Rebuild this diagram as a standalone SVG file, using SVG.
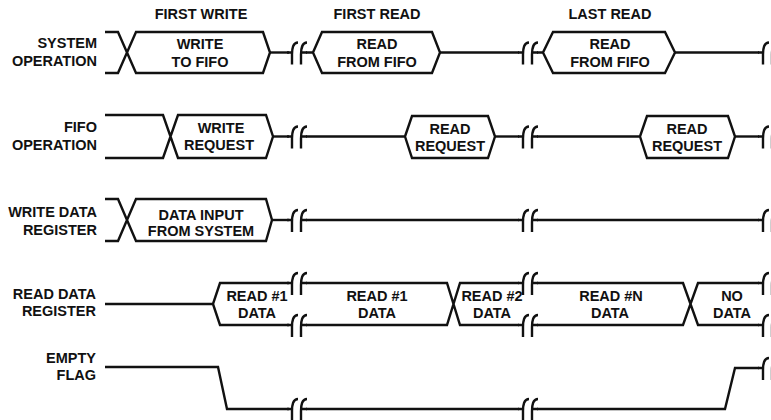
<svg xmlns="http://www.w3.org/2000/svg" xmlns:xlink="http://www.w3.org/1999/xlink" width="771" height="420" viewBox="0 0 771 420">
<style>
  .w { fill: none; stroke: #111; stroke-width: 2.4; stroke-linejoin: miter; }
  text { font-family: "Liberation Sans", Arial, sans-serif; font-weight: bold; font-size: 14.5px; fill: #111; }
  .lbl { text-anchor: end; }
  .c { text-anchor: middle; }
</style>
<defs>
  <path id="brk" class="w" d="M-5,0 L0,0 M6,-10 C1,-10 0,-4 0,2 L0,12 M15,-10 C10,-10 9,-4 9,2 L9,12 M9,0 L15,0"/>
</defs>
<rect width="771" height="420" fill="#fff"/>

<g id="headings">
  <text class="c" x="201" y="19">FIRST WRITE</text>
  <text class="c" x="377" y="19">FIRST READ</text>
  <text class="c" x="610" y="19">LAST READ</text>
</g>

<g id="system-operation">
  <text class="lbl" x="97" y="48">SYSTEM</text>
  <text class="lbl" x="97" y="66">OPERATION</text>
  <path class="w" d="M105,32 L118,32 L136,73 L263,73 L270,52.5 L263,32 L136,32 L118,73 L105,73"/>
  <path class="w" d="M270,52.5 L289,52.5"/>
  <use xlink:href="#brk" x="292" y="52.5"/>
  <path class="w" d="M306,52.5 L313,52.5 L322,32 L432,32 L440,52.5 L432,73 L322,73 L313,52.5"/>
  <path class="w" d="M440,52.5 L519,52.5"/>
  <use xlink:href="#brk" x="523" y="52.5"/>
  <path class="w" d="M537,52.5 L543,52.5 L553,32 L665,32 L675,52.5 L665,73 L553,73 L543,52.5"/>
  <path class="w" d="M675,52.5 L759,52.5"/>
  <use xlink:href="#brk" x="763" y="52.5"/>
  <text class="c" x="200" y="49">WRITE</text>
  <text class="c" x="200" y="67">TO FIFO</text>
  <text class="c" x="377" y="49">READ</text>
  <text class="c" x="377" y="67">FROM FIFO</text>
  <text class="c" x="610" y="49">READ</text>
  <text class="c" x="610" y="67">FROM FIFO</text>
</g>

<g id="fifo-operation">
  <text class="lbl" x="97" y="132">FIFO</text>
  <text class="lbl" x="97" y="150">OPERATION</text>
  <path class="w" d="M105,115 L163,115 L178,158 L266,158 L273,136.5 L266,115 L178,115 L163,158 L105,158"/>
  <path class="w" d="M273,136.5 L289,136.5"/>
  <use xlink:href="#brk" x="292" y="136.5"/>
  <path class="w" d="M306,136.5 L405,136.5 L412,116 L488,116 L495,136.5 L488,158 L412,158 L405,136.5"/>
  <path class="w" d="M495,136.5 L519,136.5"/>
  <use xlink:href="#brk" x="523" y="136.5"/>
  <path class="w" d="M537,136.5 L640,136.5 L647,116 L728,116 L735,136.5 L728,158 L647,158 L640,136.5"/>
  <path class="w" d="M735,136.5 L759,136.5"/>
  <use xlink:href="#brk" x="763" y="136.5"/>
  <text class="c" x="221" y="133">WRITE</text>
  <text class="c" x="219" y="150">REQUEST</text>
  <text class="c" x="450" y="134">READ</text>
  <text class="c" x="450" y="151">REQUEST</text>
  <text class="c" x="687" y="134">READ</text>
  <text class="c" x="687" y="151">REQUEST</text>
</g>

<g id="write-data-register">
  <text class="lbl" x="97" y="217">WRITE DATA</text>
  <text class="lbl" x="97" y="235">REGISTER</text>
  <path class="w" d="M105,199 L118,199 L136,241 L266,241 L272,220 L266,199 L136,199 L118,241 L105,241"/>
  <path class="w" d="M272,220 L289,220"/>
  <use xlink:href="#brk" x="292" y="220"/>
  <path class="w" d="M306,220 L519,220"/>
  <use xlink:href="#brk" x="523" y="220"/>
  <path class="w" d="M537,220 L759,220"/>
  <use xlink:href="#brk" x="763" y="220"/>
  <text class="c" x="201" y="220">DATA INPUT</text>
  <text class="c" x="201" y="236">FROM SYSTEM</text>
</g>

<g id="read-data-register">
  <text class="lbl" x="96" y="299">READ DATA</text>
  <text class="lbl" x="96" y="316">REGISTER</text>
  <path class="w" d="M105,304 L213,304 L220,283 L289,283 M213,304 L220,325 L289,325"/>
  <use xlink:href="#brk" x="292" y="283"/>
  <use xlink:href="#brk" x="292" y="325"/>
  <path class="w" d="M306,283 L447,283 L460,325 L519,325 M306,325 L447,325 L460,283 L519,283"/>
  <use xlink:href="#brk" x="523" y="283"/>
  <use xlink:href="#brk" x="523" y="325"/>
  <path class="w" d="M537,283 L683,283 L698,325 L759,325 M537,325 L683,325 L698,283 L759,283"/>
  <use xlink:href="#brk" x="763" y="283"/>
  <use xlink:href="#brk" x="763" y="325"/>
  <text class="c" x="257" y="301">READ #1</text>
  <text class="c" x="257" y="318">DATA</text>
  <text class="c" x="377" y="301">READ #1</text>
  <text class="c" x="377" y="318">DATA</text>
  <text class="c" x="492" y="301">READ #2</text>
  <text class="c" x="492" y="318">DATA</text>
  <text class="c" x="611" y="301">READ #N</text>
  <text class="c" x="610" y="318">DATA</text>
  <text class="c" x="732" y="301">NO</text>
  <text class="c" x="732" y="318">DATA</text>
</g>

<g id="empty-flag">
  <text class="lbl" x="96" y="363">EMPTY</text>
  <text class="lbl" x="96" y="380">FLAG</text>
  <path class="w" d="M105,367 L218,367 L227,409 L289,409"/>
  <use xlink:href="#brk" x="292" y="409"/>
  <path class="w" d="M306,409 L519,409"/>
  <use xlink:href="#brk" x="523" y="409"/>
  <path class="w" d="M537,409 L725,409 L735,368 L759,368"/>
  <use xlink:href="#brk" x="763" y="368"/>
</g>
</svg>
